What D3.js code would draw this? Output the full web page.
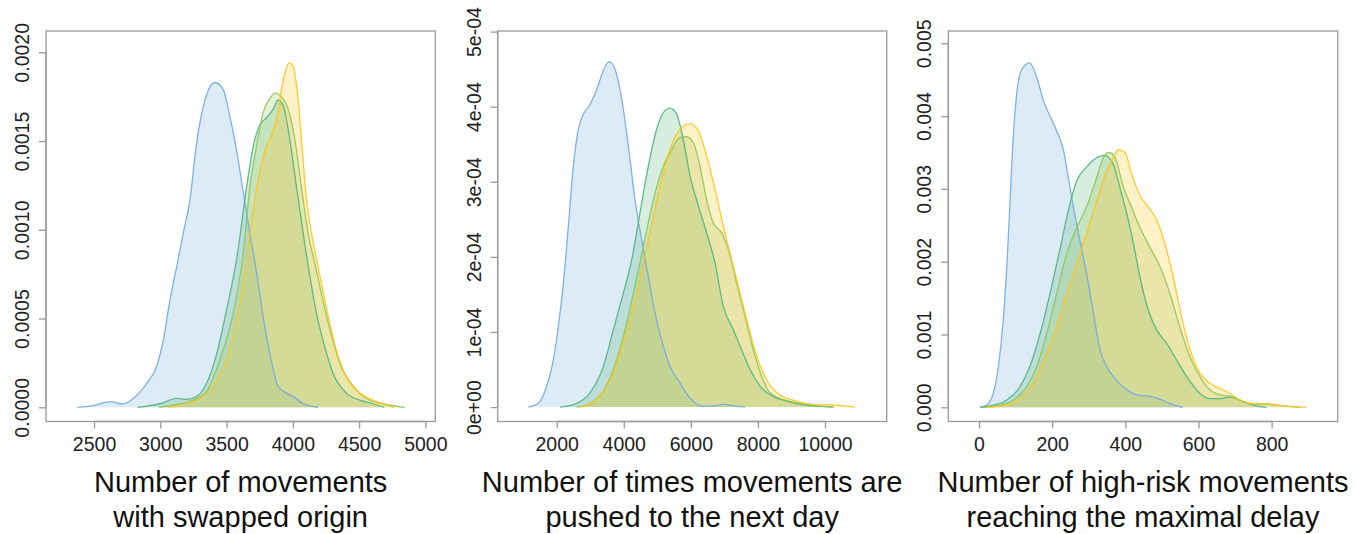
<!DOCTYPE html>
<html>
<head>
<meta charset="utf-8">
<script src="https://cdn.jsdelivr.net/npm/d3@7"></script>
<style>
  body { margin: 0; background: #fff; }
  text { font-family: "Liberation Sans", Arial, sans-serif; }
</style>
</head>
<body>
<script>
// ---- data: [value, density] ----
var swapBlue = [[2374,0],[2495,0.00001],[2620,0.000032],[2721,0.000019],[2796,0.00005],[2897,0.000135],[2972,0.00023],[3023,0.00038],[3073,0.000605],[3123,0.00079],[3173,0.00098],[3224,0.00117],[3274,0.00149],[3337,0.00173],[3412,0.00183],[3475,0.00179],[3525,0.00164],[3575,0.00145],[3626,0.00121],[3676,0.00098],[3726,0.00076],[3776,0.00051],[3827,0.0003],[3889,0.00012],[3952,0.00008],[4003,0.00006],[4078,0.00002],[4191,0]];
var swapGreen = [[2827,0],[2997,0.00002],[3123,0.00005],[3198,0.000045],[3274,0.00006],[3349,0.000135],[3425,0.0003],[3500,0.00055],[3575,0.00083],[3651,0.00124],[3701,0.00147],[3751,0.00159],[3801,0.00163],[3852,0.00168],[3889,0.00173],[3927,0.0017],[3977,0.00151],[4028,0.00124],[4078,0.00098],[4128,0.00074],[4178,0.00053],[4241,0.00034],[4304,0.00019],[4404,0.00008],[4505,0.00004],[4605,0.00002],[4690,0]];
var swapLime = [[2990,0],[3148,0.00002],[3249,0.00004],[3349,0.00009],[3450,0.00027],[3550,0.00053],[3626,0.00087],[3676,0.00124],[3726,0.00147],[3776,0.00166],[3827,0.00174],[3864,0.00177],[3914,0.00175],[3965,0.00168],[4015,0.00151],[4065,0.00124],[4116,0.00098],[4166,0.00081],[4216,0.00064],[4279,0.00044],[4354,0.00025],[4455,0.00012],[4555,0.00005],[4681,0.00002],[4844,0]];
var swapYellow = [[3060,0],[3198,0.00002],[3299,0.00005],[3399,0.00012],[3500,0.00027],[3575,0.00049],[3651,0.00083],[3713,0.00117],[3764,0.00137],[3801,0.00147],[3839,0.00153],[3877,0.00162],[3914,0.00179],[3947,0.0019],[3972,0.00194],[4003,0.00192],[4035,0.00177],[4065,0.00151],[4103,0.00117],[4141,0.00098],[4191,0.00079],[4254,0.00056],[4329,0.00032],[4404,0.00017],[4505,0.00008],[4605,0.00004],[4764,0]];

var pushBlue = [[1155,0],[1453,0.05e-4],[1702,0.28e-4],[1901,0.63e-4],[2050,1.08e-4],[2199,1.65e-4],[2348,2.41e-4],[2497,3.21e-4],[2646,3.7e-4],[2795,3.9e-4],[2994,4.03e-4],[3193,4.23e-4],[3391,4.48e-4],[3560,4.6e-4],[3739,4.5e-4],[3938,4.1e-4],[4137,3.48e-4],[4335,2.76e-4],[4534,2.23e-4],[4733,1.74e-4],[4932,1.25e-4],[5180,0.81e-4],[5379,0.54e-4],[5677,0.32e-4],[5975,0.12e-4],[6373,0.01e-4],[6770,0.02e-4],[6969,0.04e-4],[7217,0.02e-4],[7615,0]];
var pushGreen = [[2099,0],[2596,0.05e-4],[2994,0.19e-4],[3391,0.54e-4],[3689,1.03e-4],[3988,1.52e-4],[4236,1.96e-4],[4484,2.59e-4],[4733,3.21e-4],[4981,3.7e-4],[5180,3.92e-4],[5379,3.98e-4],[5578,3.9e-4],[5776,3.56e-4],[5975,3.08e-4],[6224,2.68e-4],[6472,2.32e-4],[6720,1.92e-4],[6969,1.34e-4],[7267,1.03e-4],[7516,0.76e-4],[7764,0.5e-4],[8062,0.28e-4],[8460,0.14e-4],[8857,0.08e-4],[9354,0.03e-4],[10248,0]];
var pushLime = [[2596,0],[2994,0.05e-4],[3391,0.21e-4],[3689,0.5e-4],[3988,0.94e-4],[4286,1.52e-4],[4584,2.14e-4],[4882,2.76e-4],[5180,3.21e-4],[5429,3.43e-4],[5677,3.59e-4],[5876,3.6e-4],[6075,3.52e-4],[6273,3.21e-4],[6472,2.76e-4],[6671,2.45e-4],[6919,2.32e-4],[7118,2.1e-4],[7366,1.65e-4],[7615,1.21e-4],[7863,0.76e-4],[8111,0.41e-4],[8360,0.19e-4],[8758,0.1e-4],[9255,0.05e-4],[9950,0.01e-4],[10248,0]];
var pushYellow = [[2696,0],[3193,0.1e-4],[3590,0.36e-4],[3888,0.72e-4],[4186,1.16e-4],[4484,1.7e-4],[4783,2.32e-4],[5081,2.94e-4],[5379,3.43e-4],[5677,3.7e-4],[5975,3.77e-4],[6224,3.68e-4],[6472,3.34e-4],[6720,2.9e-4],[6969,2.41e-4],[7217,1.96e-4],[7466,1.52e-4],[7714,1.08e-4],[7963,0.68e-4],[8261,0.36e-4],[8658,0.16e-4],[9155,0.08e-4],[9751,0.03e-4],[10149,0.03e-4],[10447,0.02e-4],[10894,0]];

var riskBlue = [[3,0],[21,0.00003],[39,0.00019],[53,0.00056],[67,0.00124],[76,0.00193],[85,0.00284],[94,0.00375],[105,0.00439],[117,0.00464],[138,0.00473],[158,0.00453],[176,0.00421],[194,0.004],[212,0.0038],[231,0.00353],[244,0.00316],[258,0.00275],[276,0.00229],[294,0.00184],[313,0.00129],[331,0.00079],[349,0.00056],[376,0.00037],[404,0.00024],[431,0.00017],[467,0.00015],[495,0.00011],[522,0.00005],[557,0]];
var riskGreen = [[3,0],[39,0.00003],[76,0.0001],[112,0.00028],[139,0.00056],[167,0.00101],[194,0.00156],[221,0.00216],[244,0.0027],[267,0.00311],[294,0.0033],[322,0.00343],[344,0.00346],[367,0.00334],[385,0.00302],[404,0.00266],[422,0.00225],[440,0.00179],[463,0.00133],[486,0.00106],[513,0.00088],[540,0.00065],[568,0.00042],[604,0.00019],[631,0.00012],[659,0.00012],[686,0.00014],[713,0.0001],[750,0.00003],[786,0]];
var riskLime = [[12,0],[57,0.00003],[94,0.0001],[130,0.00028],[158,0.00056],[185,0.00101],[212,0.00156],[240,0.00211],[267,0.00247],[294,0.00275],[322,0.00316],[340,0.00343],[355,0.0035],[372,0.00343],[395,0.00302],[417,0.00275],[440,0.00247],[467,0.0022],[495,0.00193],[522,0.00156],[549,0.0011],[577,0.00069],[604,0.00042],[631,0.00024],[659,0.00017],[686,0.00015],[713,0.0001],[741,0.00005],[786,0.00004],[832,0.00002],[877,0]];
var riskYellow = [[21,0],[76,0.00003],[112,0.00012],[149,0.00033],[185,0.00074],[212,0.0011],[240,0.00156],[267,0.00197],[294,0.00238],[322,0.00284],[349,0.00325],[367,0.00343],[381,0.00354],[399,0.0035],[417,0.00321],[440,0.00291],[463,0.00275],[486,0.00257],[508,0.00225],[531,0.00179],[554,0.00124],[577,0.00079],[604,0.00047],[631,0.00033],[659,0.00026],[686,0.00019],[713,0.0001],[750,0.00005],[786,0.00005],[832,0.00002],[894,0]];

var swapXTicks = [2500, 3000, 3500, 4000, 4500, 5000];
var swapYTicks = [0, 0.0005, 0.001, 0.0015, 0.002];
var swapYLabels = ["0.0000", "0.0005", "0.0010", "0.0015", "0.0020"];
var pushXTicks = [2000, 4000, 6000, 8000, 10000];
var pushYTicks = [0, 1e-4, 2e-4, 3e-4, 4e-4, 5e-4];
var pushYLabels = ["0e+00", "1e-04", "2e-04", "3e-04", "4e-04", "5e-04"];
var riskXTicks = [0, 200, 400, 600, 800];
var riskYTicks = [0, 0.001, 0.002, 0.003, 0.004, 0.005];
var riskYLabels = ["0.000", "0.001", "0.002", "0.003", "0.004", "0.005"];

var titles = [
  ["Number of movements", "with swapped origin"],
  ["Number of times movements are", "pushed to the next day"],
  ["Number of high-risk movements", "reaching the maximal delay"]
];

var colors = ["#72abde", "#52b47f", "#8dc655", "#ffc418"];

// ---- layout ----
var width = 1356, height = 534;
var plotTop = 31, plotBottom = 421.5;
var panels = [
  { left: 46, right: 435.3, xdom: [2137.5, 5075], ydom: [-0.00008, 0.00212],
    series: [swapBlue, swapGreen, swapLime, swapYellow],
    xt: swapXTicks, yt: swapYTicks, yl: swapYLabels },
  { left: 497.7, right: 886.7, xdom: [241, 11840], ydom: [-0.192e-4, 5.008e-4],
    series: [pushBlue, pushGreen, pushLime, pushYellow],
    xt: pushXTicks, yt: pushYTicks, yl: pushYLabels },
  { left: 948.3, right: 1337.7, xdom: [-83.9, 980.5], ydom: [-0.000195, 0.005169],
    series: [riskBlue, riskGreen, riskLime, riskYellow],
    xt: riskXTicks, yt: riskYTicks, yl: riskYLabels }
];

var svg = d3.select("body").append("svg")
  .attr("width", width)
  .attr("height", height);

panels.forEach(function(p, i) {
  var x = d3.scaleLinear().domain(p.xdom).range([p.left, p.right]);
  var y = d3.scaleLinear().domain(p.ydom).range([plotBottom, plotTop]);
  var g = svg.append("g");

  var area = d3.area()
    .x(function(d) { return x(d[0]); })
    .y0(y(0))
    .y1(function(d) { return y(d[1]); })
    .curve(d3.curveMonotoneX);
  var line = d3.line()
    .x(function(d) { return x(d[0]); })
    .y(function(d) { return y(d[1]); })
    .curve(d3.curveMonotoneX);

  p.series.forEach(function(s, k) {
    g.append("path")
      .attr("d", area(s))
      .attr("fill", colors[k])
      .attr("fill-opacity", 0.24);
  });
  p.series.forEach(function(s, k) {
    g.append("path")
      .attr("d", line(s))
      .attr("fill", "none")
      .attr("stroke", colors[k])
      .attr("stroke-width", 1.3)
      .attr("stroke-opacity", 0.9);
  });

  // box
  g.append("rect")
    .attr("x", p.left).attr("y", plotTop)
    .attr("width", p.right - p.left).attr("height", plotBottom - plotTop)
    .attr("fill", "none")
    .attr("stroke", "#9a9a9a")
    .attr("stroke-width", 1.3);

  // x axis
  var xa = g.append("g")
    .attr("transform", "translate(0," + plotBottom + ")")
    .call(d3.axisBottom(x).tickValues(p.xt).tickSize(7).tickSizeOuter(0).tickPadding(9)
      .tickFormat(d3.format("d")));
  xa.select(".domain").attr("stroke", "#9a9a9a").attr("stroke-width", 1.3)
    .attr("d", "M" + x(p.xt[0]) + ",0H" + x(p.xt[p.xt.length - 1]));
  xa.selectAll(".tick line").attr("stroke", "#9a9a9a").attr("stroke-width", 1.3);
  xa.selectAll(".tick text").attr("font-size", "19.5px").attr("fill", "#222")
    .attr("font-family", "Liberation Sans, Arial, sans-serif");

  // y axis
  var ya = g.append("g")
    .attr("transform", "translate(" + p.left + ",0)")
    .call(d3.axisLeft(y).tickValues(p.yt).tickSize(7).tickSizeOuter(0)
      .tickFormat(function(d, j) { return p.yl[j]; }));
  ya.select(".domain").attr("stroke", "#9a9a9a").attr("stroke-width", 1.3)
    .attr("d", "M0," + y(p.yt[0]) + "V" + y(p.yt[p.yt.length - 1]));
  ya.selectAll(".tick line").attr("stroke", "#9a9a9a").attr("stroke-width", 1.3);
  ya.selectAll(".tick text")
    .attr("x", null).attr("dy", null)
    .attr("text-anchor", "middle")
    .attr("transform", "translate(-17,0) rotate(-90)")
    .attr("font-size", "19.5px").attr("fill", "#222")
    .attr("font-family", "Liberation Sans, Arial, sans-serif");

  // title under the axis
  var cx = (p.left + p.right) / 2;
  titles[i].forEach(function(t, j) {
    g.append("text")
      .attr("x", cx)
      .attr("y", 492 + j * 34.5)
      .attr("text-anchor", "middle")
      .attr("font-size", "29px")
      .attr("fill", "#111")
      .text(t);
  });
});
</script>
</body>
</html>
